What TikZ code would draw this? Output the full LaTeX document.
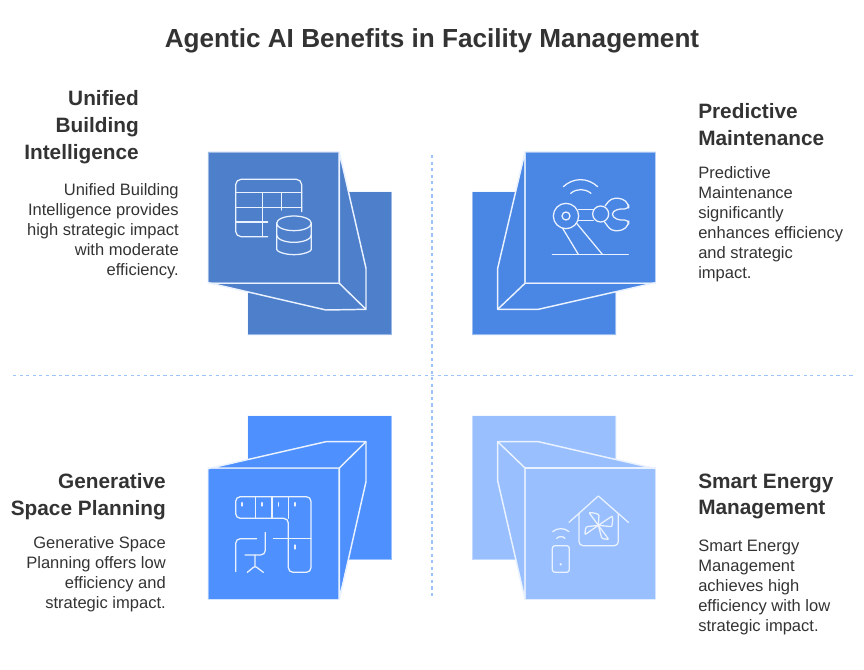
\documentclass[tikz,border=0pt]{standalone}
\usepackage{fontspec}
\setmainfont{Liberation Sans}
\definecolor{cA}{HTML}{4D7FCB}
\definecolor{cB}{HTML}{4A86E4}
\definecolor{cC}{HTML}{4D90FE}
\definecolor{cD}{HTML}{99BFFF}
\definecolor{ink}{HTML}{333333}
\definecolor{rule}{HTML}{9DC3F8}
\definecolor{pale}{HTML}{EAF2FF}
\tikzset{
  edge/.style={draw=pale, line width=1.1pt, line join=round},
  sq/.style={edge, draw opacity=.5, line width=.8pt},
  icon/.style={draw=pale, line width=.95pt, line cap=round, line join=round, rounded corners=1.6pt},
  sep/.style={draw=rule, line width=1.3pt, dash pattern=on 2.5pt off 2.4pt},
  ttl/.style={font=\bfseries\fontsize{19.6}{24}\selectfont, text=ink, inner sep=0pt},
  hd/.style={font=\bfseries\fontsize{15.6}{20}\selectfont, text=ink, inner sep=0pt},
  bd/.style={font=\fontsize{12.4}{15}\selectfont, text=ink, inner sep=0pt},
  zoomed/.style={shift={(#1)}, x=.25pt, y=-.25pt},
}
\begin{document}
\begin{tikzpicture}[x=.75pt,y=-.75pt]
\useasboundingbox (0,0) rectangle (864,670);
\node[ttl] (title) at (432,40.5) {Agentic AI Benefits in Facility Management};
\coordinate (vt) at (432,155); \coordinate (vb) at (432,597);
\coordinate (hl) at (13,375.5); \coordinate (hr) at (855,375.5);
\draw[sep] (vt) -- (vb);
\draw[sep] (hl) -- (hr);

% Q1
\begin{scope}[zoomed={200,140}]
\fill[cA] (143,155) rectangle (575,585);
\draw[sq] (143,155) rectangle (575,585);
\fill[cA] (24,36) -- (418,36) -- (498,385) -- (498,508) -- (378,510) -- (24,428) -- cycle;
\draw[sq] (24,36) rectangle (416,428);
\draw[edge] (418,36) -- (498,385) -- (498,508) -- (418,430) -- (418,36);
\draw[edge] (24,428) -- (378,510) -- (498,508);
\draw[edge] (24,430) -- (418,430);
\draw[icon,rounded corners=4pt] (305,215) -- (305,118) -- (107,118) -- (107,290) -- (203,290);
\draw[icon] (107,158) -- (305,158) (107,203) -- (305,203) (107,246) -- (203,246);
\draw[icon] (188,158) -- (188,290) (245,158) -- (245,210);
\draw[icon] (282,250) ellipse [x radius=52, y radius=22];
\draw[icon] (230,250) -- (230,322) arc [start angle=180, end angle=360, x radius=52, y radius=-22] -- (334,250);
\draw[icon] (230,285) arc [start angle=180, end angle=360, x radius=52, y radius=-22];
\end{scope}

% Q2
\begin{scope}[zoomed={465,140}]
\fill[cB] (22,155) rectangle (453,585);
\draw[sq] (22,155) rectangle (453,585);
\fill[cB] (180,36) -- (572,36) -- (572,428) -- (220,508) -- (98,508) -- (98,385) -- cycle;
\draw[sq] (180,36) rectangle (572,428);
\draw[edge] (180,36) -- (98,385) -- (98,508) -- (180,430) -- (180,36);
\draw[edge] (98,508) -- (220,508) -- (572,428);
\draw[edge] (180,430) -- (572,430);
\draw[icon] (295,140) .. controls (325,112) and (368,112) .. (398,140);
\draw[icon] (317,160) .. controls (335,145) and (360,145) .. (378,160);
\draw[icon] (303,228) circle [radius=38];
\draw[icon] (303,228) circle [radius=12];
\draw[icon] (340,208) -- (385,208) (340,242) -- (385,242);
\draw[icon] (407,222) circle [radius=24];
\draw[icon,rounded corners=3pt] (420,198) -- (438,175) -- (472,175) -- (491,192) -- (491,207) -- (455,207) -- (437,222) -- (455,240) -- (491,240) -- (491,255) -- (472,272) -- (438,272) -- (418,245);
\draw[icon] (293,265) -- (340,343) (335,250) -- (412,343);
\draw[icon] (262,343) -- (490,343);
\end{scope}

% Q3
\begin{scope}[zoomed={200,410}]
\fill[cC] (143,17) rectangle (575,449);
\draw[sq] (143,17) rectangle (575,449);
\fill[cC] (24,176) -- (378,95) -- (498,95) -- (498,215) -- (416,568) -- (24,568) -- cycle;
\draw[sq] (24,176) rectangle (416,568);
\draw[edge] (24,176) -- (378,95) -- (498,95) -- (418,174) -- (24,174);
\draw[edge] (498,95) -- (498,215) -- (418,568) -- (418,174);
\draw[icon,rounded corners=3.5pt] (265,325) -- (107,325) -- (107,260) -- (333,260) -- (333,487) -- (265,487) -- cycle;
\draw[icon] (166,260) -- (166,325) (216,260) -- (216,325) (265,260) -- (265,325);
\draw[icon] (220,386) -- (333,386);
\draw[icon] (126,278) -- (126,288) (186,278) -- (186,288) (235,278) -- (235,288) (285,278) -- (285,288) (285,405) -- (285,417);
\draw[icon,rounded corners=3.5pt] (107,485) -- (107,386) -- (170,386);
\draw[icon,rounded corners=3.5pt] (196,367) -- (196,435) -- (135,435);
\draw[icon] (165,435) -- (165,468) (142,487) -- (165,468) -- (190,487);
\end{scope}

% Q4
\begin{scope}[zoomed={465,410}]
\fill[cD] (22,17) rectangle (453,449);
\draw[sq] (22,17) rectangle (453,449);
\fill[cD] (98,95) -- (220,95) -- (572,176) -- (572,568) -- (180,568) -- (98,212) -- cycle;
\draw[sq] (180,176) rectangle (572,568);
\draw[edge] (98,95) -- (220,95) -- (572,176);
\draw[edge] (98,95) -- (98,212) -- (180,568) -- (180,174) -- cycle;
\draw[edge] (180,174) -- (572,174);
\draw[icon,rounded corners=0pt] (312,337) -- (400,258) -- (490,337);
\draw[icon,rounded corners=3pt] (342,310) -- (342,407) -- (460,407) -- (460,310);
\draw[icon,rounded corners=.6pt] (400,346) -- (372,308) .. controls (388,308) and (398,312) .. (402,315) -- (400,346);
\draw[icon,rounded corners=.6pt] (400,346) -- (442,318) .. controls (444,332) and (442,342) .. (440,350) -- (400,346);
\draw[icon,rounded corners=.6pt] (400,346) -- (360,374) .. controls (360,362) and (362,354) .. (365,350) -- (400,346);
\draw[icon,rounded corners=.6pt] (400,346) -- (431,388) .. controls (422,388) and (414,386) .. (410,384) -- (400,346);
\draw[icon,rounded corners=2pt] (262,407) rectangle (313,487);
\fill[pale] (287,463) circle [radius=4];
\draw[icon] (263,365) .. controls (275,353) and (300,353) .. (312,365);
\draw[icon] (275,385) .. controls (282,378) and (293,378) .. (300,385);
\end{scope}

\node[hd, anchor=north east, align=right] (h1) at (139,90.5) {Unified\\Building\\Intelligence};
\node[bd, anchor=north east, align=right] (b1) at (179,183.5) {Unified Building\\Intelligence provides\\high strategic impact\\with moderate\\efficiency.};
\node[hd, anchor=north west, align=left] (h2) at (698,103.5) {Predictive\\Maintenance};
\node[bd, anchor=north west, align=left] (b2) at (698,166.5) {Predictive\\Maintenance\\significantly\\enhances efficiency\\and strategic\\impact.};
\node[hd, anchor=north east, align=right] (h3) at (166,473.5) {Generative\\Space Planning};
\node[bd, anchor=north east, align=right] (b3) at (166,536.5) {Generative Space\\Planning offers low\\efficiency and\\strategic impact.};
\node[hd, anchor=north west, align=left] (h4) at (698,473.5) {Smart Energy\\Management};
\node[bd, anchor=north west, align=left] (b4) at (698,539.5) {Smart Energy\\Management\\achieves high\\efficiency with low\\strategic impact.};
\end{tikzpicture}
\end{document}
